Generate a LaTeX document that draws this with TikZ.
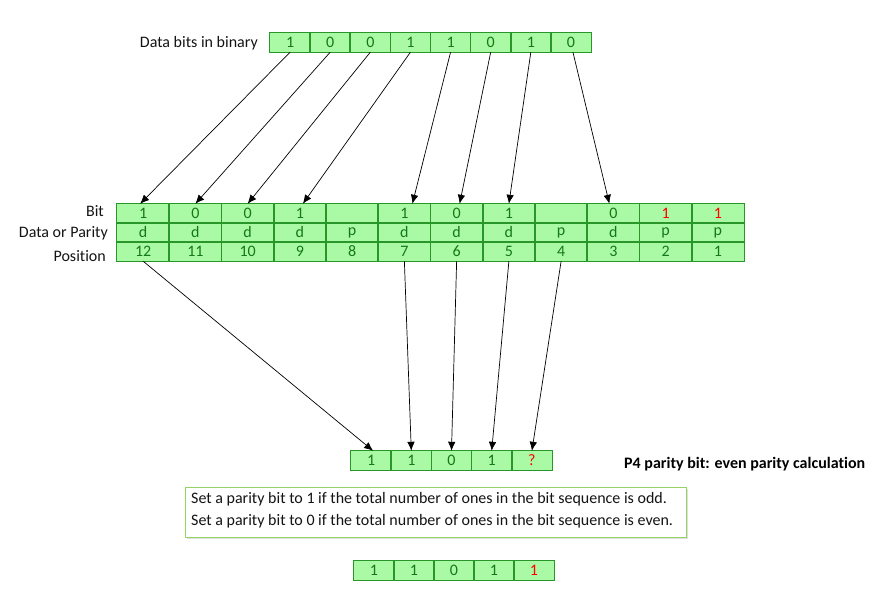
\documentclass[tikz,border=0pt]{standalone}
\usepackage{fontspec}
\setmainfont{Carlito}[Ligatures=NoCommon]
\usetikzlibrary{arrows.meta,shadows}
\definecolor{cellfill}{RGB}{170,250,165}
\definecolor{celldraw}{RGB}{40,150,40}
\definecolor{celltext}{RGB}{20,120,20}
\definecolor{boxdraw}{RGB}{150,210,100}
\definecolor{txt}{RGB}{20,20,20}
\tikzset{
  basefont/.style={font=\fontsize{16}{19}\selectfont},
  cellbox/.style={fill=cellfill,text=celltext,inner sep=0pt,
    minimum height=19pt,anchor=center,basefont},
  topcell/.style={cellbox,minimum width=40.125pt},
  maincell/.style={cellbox,minimum width=52.25pt},
  rowcell/.style={cellbox,minimum width=40.2pt},
  redbit/.style={text=red},
  outline/.style={draw=celldraw,line width=1.2pt},
  lbl/.style={basefont,text=txt,inner sep=0pt,anchor=east},
  arr/.style={line width=0.7pt,-{Latex[length=9pt,width=7.5pt]}},
}
\begin{document}
\begin{tikzpicture}[x=1pt,y=-1pt]
\useasboundingbox (0,0) rectangle (888,601);
% top row of data bits
\foreach \v [count=\i] in {1,0,0,1,1,0,1,0}{
  \node[topcell] (t\i) at ({270+40.125*(\i-0.5)},42.5) {\v};
}
\foreach \i in {1,...,8}{\draw[outline] (t\i.north west) rectangle (t\i.south east);}
\node[lbl] (toplbl) at (258,43) {Data bits in binary};
% main table
\foreach \p/\b/\t [count=\i] in {12/1/d,11/0/d,10/0/d,9/1/d,8//p,7/1/d,6/0/d,5/1/d,4//p,3/0/d,2/1/p,1/1/p}{
  \pgfmathsetmacro{\cx}{117+52.25*(\i-0.5)}
  \node[maincell] (p\p) at (\cx,251.5) {\p};
  \node[maincell] (d\p) at (\cx,232.5) {\t};
  \ifnum\p<3
    \node[maincell,redbit] (b\p) at (\cx,213.5) {\b};
  \else
    \node[maincell] (b\p) at (\cx,213.5) {\b};
  \fi
}
\foreach \p in {1,...,12}{
  \draw[outline] (b\p.north west) rectangle (b\p.south east);
  \draw[outline] (d\p.north west) rectangle (d\p.south east);
  \draw[outline] (p\p.north west) rectangle (p\p.south east);
}
\node[lbl] (lbit) at (104,211) {Bit};
\node[lbl] (ldp) at (108,233) {Data or Parity};
\node[lbl] (lpos) at (106,256) {Position};
% arrows top -> main
\draw[arr] (t1.south) -- ([xshift=-3pt]b12.north);
\draw[arr] (t2.south) -- (b11.north);
\draw[arr] (t3.south) -- (b10.north);
\draw[arr] (t4.south) -- ([xshift=3pt]b9.north);
\draw[arr] (t5.south) -- ([xshift=8pt]b7.north);
\draw[arr] (t6.south) -- ([xshift=3pt]b6.north);
\draw[arr] (t7.south) -- (b5.north);
\draw[arr] ([xshift=2pt]t8.south) -- ([xshift=-4pt]b3.north);
% bottom row for P4
\foreach \v [count=\i] in {1,1,0,1}{
  \node[rowcell] (r\i) at ({351+40.2*(\i-0.5)},460.5) {\v};
}
\node[rowcell,redbit] (r5) at ({351+40.2*4.5},460.5) {?};
\foreach \i in {1,...,5}{\draw[outline] (r\i.north west) rectangle (r\i.south east);}
% arrows main -> bottom row
\draw[arr] (p12.south) -- ([xshift=2pt]r1.north);
\draw[arr] (p7.south) -- (r2.north);
\draw[arr] (p6.south) -- (r3.north);
\draw[arr] (p5.south) -- (r4.north);
\draw[arr] (p4.south) -- (r5.north);
\node[anchor=west,inner sep=0pt,text=black,font=\fontsize{16}{19}\selectfont\bfseries] (p4lbl) at (624,464) {P4 parity bit: even parity calculation};
% explanation box
\node[draw=boxdraw,line width=1.2pt,fill=white,drop shadow={opacity=0.25,shadow xshift=1.5pt,shadow yshift=-1.5pt},
  minimum width=501pt,minimum height=50pt,inner sep=0pt,anchor=north west] (box) at (185,487) {};
\node[anchor=west,inner sep=0pt,basefont,text=txt,align=left] (line1) at (191,499) {Set a parity bit to 1 if the total number of ones in the bit sequence is odd.};
\node[anchor=west,inner sep=0pt,basefont,text=txt,align=left] (line2) at (191,521) {Set a parity bit to 0 if the total number of ones in the bit sequence is even.};
% final row
\foreach \v [count=\i] in {1,1,0,1}{
  \node[rowcell] (f\i) at ({354+40*(\i-0.5)},570.5) {\v};
}
\node[rowcell,redbit] (f5) at ({354+40*4.5},570.5) {1};
\foreach \i in {1,...,5}{\draw[outline] (f\i.north west) rectangle (f\i.south east);}
\end{tikzpicture}
\end{document}
